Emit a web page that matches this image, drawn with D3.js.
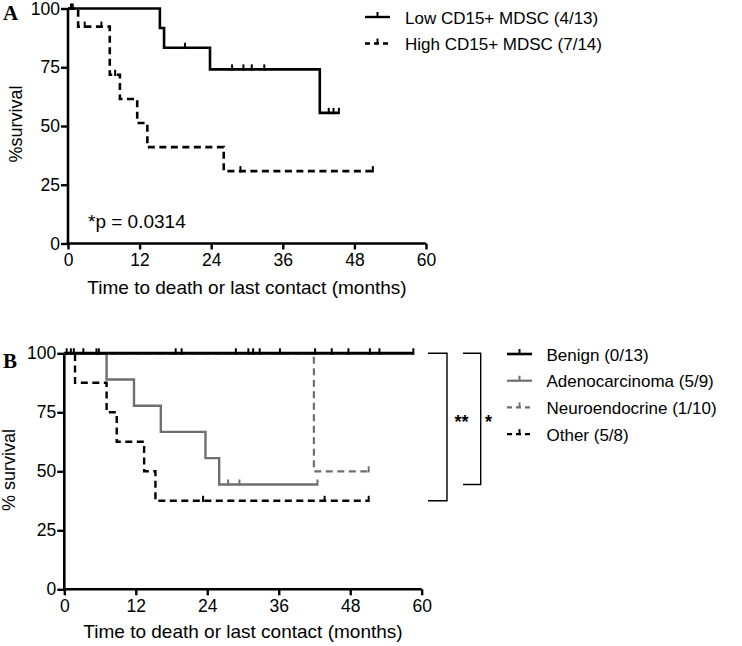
<!DOCTYPE html>
<html><head><meta charset="utf-8">
<script src="https://cdn.jsdelivr.net/npm/d3@7"></script>
<style>
body{margin:0;background:#fff}
</style></head>
<body>
<svg id="c" width="742" height="646"></svg>
<script>
// ---------- DATA ----------
const xTicks = [0, 12, 24, 36, 48, 60];
const yTicks = [0, 25, 50, 75, 100];

// Panel A
const lowTimes = [0, 15.4, 16.1, 23.8, 42.2];
const lowSurv = [100, 91.7, 83.3, 74.1, 55.6];
const lowEnd = 45.4;
const lowCensor = [0.5, 19.6, 27.5, 29.4, 30.8, 32.9, 43.7, 44.5, 45.4];

const highTimes = [0, 1.7, 7.0, 8.7, 11.6, 13.3, 26.1];
const highSurv = [100, 92.3, 71.8, 61.5, 51.3, 41.0, 30.8];
const highEnd = 51.1;
const highCensor = [0.8, 2.8, 5.6, 7.9, 28.9, 51.1];

const legendA = ["Low CD15+ MDSC (4/13)", "High CD15+ MDSC (7/14)"];
const pText = "*p = 0.0314";

// Panel B
const benignTimes = [0];
const benignSurv = [100];
const benignEnd = 58.6;
const benignCensor = [0.4, 1.1, 1.6, 3.2, 5.4, 5.8, 18.7, 19.7, 28.8, 30.9, 31.7, 32.8, 36.2,
                      42.1, 44.9, 47.7, 51.3, 52.9, 58.6];

const adenoTimes = [0, 7.1, 11.7, 16.2, 23.7, 26.0];
const adenoSurv = [100, 88.9, 77.8, 66.7, 55.6, 44.4];
const adenoEnd = 42.5;
const adenoCensor = [27.5, 29.4, 42.5];

const neuroTimes = [0, 41.9];
const neuroSurv = [100, 50];
const neuroEnd = 51.1;
const neuroCensor = [51.1];

const otherTimes = [0, 1.8, 7.1, 8.8, 13.4, 15.3];
const otherSurv = [100, 87.5, 75, 62.5, 50, 37.5];
const otherEnd = 51.1;
const otherCensor = [23.3, 43.7, 51.1];

const legendB = ["Benign (0/13)", "Adenocarcinoma (5/9)", "Neuroendocrine (1/10)", "Other (5/8)"];
const sigLabels = ["**", "*"];

// ---------- DRAW ----------
const SANS = '"Liberation Sans",Arial,sans-serif';
const SERIF = '"Liberation Serif","Times New Roman",serif';
const svg = d3.select("#c");
svg.append("rect").attr("width", 742).attr("height", 646).attr("fill", "#fff");

const GREY = "#6f6f6f";

function survAt(times, surv, t) {
  let s = surv[0];
  for (let i = 0; i < times.length; i++) if (times[i] <= t) s = surv[i];
  return s;
}

function txt(g, s, size) {
  return g.append("text").style("font-family", SANS).attr("font-size", size).attr("fill", "#000").text(s);
}

function panel(cfg) {
  const g = svg.append("g");
  const x = d3.scaleLinear().domain([0, 60]).range([cfg.x0, cfg.x1]);
  const y = d3.scaleLinear().domain([0, 100]).range([cfg.y0, cfg.y1]);

  const xa = g.append("g").attr("transform", `translate(0,${cfg.y0})`)
    .call(d3.axisBottom(x).tickValues(xTicks).tickSize(6).tickSizeOuter(0).tickPadding(4));
  const ya = g.append("g").attr("transform", `translate(${cfg.x0},0)`)
    .call(d3.axisLeft(y).tickValues(yTicks).tickSize(7).tickSizeOuter(0).tickPadding(1));
  [xa, ya].forEach(a => {
    a.select(".domain").attr("stroke", "#000").attr("stroke-width", 2.6);
    a.selectAll(".tick line").attr("stroke", "#000").attr("stroke-width", 2.4);
    a.selectAll(".tick text").attr("font-size", 17.5).style("font-family", SANS).attr("fill", "#000");
  });
  ya.select(".domain").attr("d", `M0,${cfg.y0 + 1.3}V${cfg.y1}`);
  xa.select(".domain").attr("d", `M${cfg.x0 - 1.3},0H${cfg.x1}`);

  txt(g, "Time to death or last contact (months)", 19)
    .attr("x", (cfg.x0 + cfg.x1) / 2).attr("y", cfg.xTitleY).attr("text-anchor", "middle");
  txt(g, cfg.yTitle, 18)
    .attr("transform", `translate(${cfg.yTitleX},${cfg.yTitleCY}) rotate(-90)`).attr("text-anchor", "middle");
  g.append("text").attr("x", cfg.letterX).attr("y", cfg.letterY)
    .style("font-family", SERIF).attr("font-weight", "bold")
    .attr("font-size", 21).attr("fill", "#000").text(cfg.letter);

  const line = d3.line().x(d => x(d[0])).y(d => y(d[1])).curve(d3.curveStepAfter);
  cfg.series.forEach(s => {
    const pts = s.times.map((t, i) => [t, s.surv[i]]);
    pts.push([s.end, s.surv[s.surv.length - 1]]);
    g.append("path").attr("d", line(pts)).attr("fill", "none")
      .attr("stroke", s.color).attr("stroke-width", s.width)
      .attr("stroke-dasharray", s.dash || null);
    g.selectAll(null).data(s.censor).enter().append("line")
      .attr("x1", d => x(d)).attr("x2", d => x(d))
      .attr("y1", d => y(survAt(s.times, s.surv, d)) + s.width / 2)
      .attr("y2", d => y(survAt(s.times, s.surv, d)) - 5)
      .attr("stroke", s.color).attr("stroke-width", 2);
  });
  return { g, x, y };
}

// Panel A
const A = panel({
  x0: 68, x1: 426, y0: 243.5, y1: 8.5,
  xTitleY: 294, yTitleX: 22, yTitleCY: 124, yTitle: "%survival",
  letter: "A", letterX: 3, letterY: 20,
  series: [
    { times: highTimes, surv: highSurv, end: highEnd, censor: highCensor, color: "#000", width: 2.6, dash: "7,4.5" },
    { times: lowTimes, surv: lowSurv, end: lowEnd, censor: lowCensor, color: "#000", width: 2.6 }
  ]
});
txt(A.g, pText, 19).attr("x", 88).attr("y", 228);

const legA = svg.append("g");
legendA.forEach((t, i) => {
  const yy = 17 + i * 26.5;
  legA.append("line").attr("x1", 365).attr("x2", 390).attr("y1", yy).attr("y2", yy)
    .attr("stroke", "#000").attr("stroke-width", 2.4).attr("stroke-dasharray", i ? "5,4" : null);
  legA.append("line").attr("x1", 377.5).attr("x2", 377.5).attr("y1", yy).attr("y2", yy - 5)
    .attr("stroke", "#000").attr("stroke-width", 2);
  txt(legA, t, 17).attr("x", 405).attr("y", yy + 6.5);
});

// Panel B
const B = panel({
  x0: 64.3, x1: 421.7, y0: 589.3, y1: 353.3,
  xTitleY: 638, yTitleX: 15, yTitleCY: 470, yTitle: "% survival",
  letter: "B", letterX: 3, letterY: 368,
  series: [
    { times: otherTimes, surv: otherSurv, end: otherEnd, censor: otherCensor, color: "#000", width: 2.4, dash: "7,4.5" },
    { times: neuroTimes, surv: neuroSurv, end: neuroEnd, censor: neuroCensor, color: GREY, width: 2.2, dash: "7,4.5" },
    { times: adenoTimes, surv: adenoSurv, end: adenoEnd, censor: adenoCensor, color: GREY, width: 2.4 },
    { times: benignTimes, surv: benignSurv, end: benignEnd, censor: benignCensor, color: "#000", width: 3 }
  ]
});

// significance brackets
const br = svg.append("g").attr("fill", "none").attr("stroke", "#000").attr("stroke-width", 1.4);
const yTop = B.y(100);
const yOther = B.y(otherSurv[otherSurv.length - 1]);
const yAdeno = B.y(adenoSurv[adenoSurv.length - 1]);
br.append("path").attr("d", `M428,${yTop}H447V${yOther}H428`);
br.append("path").attr("d", `M463,${yTop}H480.7V${yAdeno}H463`);
txt(svg, sigLabels[0], 18).attr("x", 461.5).attr("y", 428).attr("text-anchor", "middle").attr("font-weight", "bold");
txt(svg, sigLabels[1], 18).attr("x", 488.5).attr("y", 428).attr("text-anchor", "middle").attr("font-weight", "bold");

const legB = svg.append("g");
const legBStyle = [
  { color: "#000", dash: null, w: 2.6 },
  { color: GREY, dash: null, w: 2.2 },
  { color: GREY, dash: "5,4", w: 2.2 },
  { color: "#000", dash: "5,4", w: 2.4 }
];
legendB.forEach((t, i) => {
  const yy = 354 + i * 26.7;
  const st = legBStyle[i];
  legB.append("line").attr("x1", 507).attr("x2", 532).attr("y1", yy).attr("y2", yy)
    .attr("stroke", st.color).attr("stroke-width", st.w).attr("stroke-dasharray", st.dash);
  legB.append("line").attr("x1", 519.5).attr("x2", 519.5).attr("y1", yy).attr("y2", yy - 5)
    .attr("stroke", st.color).attr("stroke-width", 2);
  txt(legB, t, 17).attr("x", 546.5).attr("y", yy + 6.5);
});
</script>
</body></html>
